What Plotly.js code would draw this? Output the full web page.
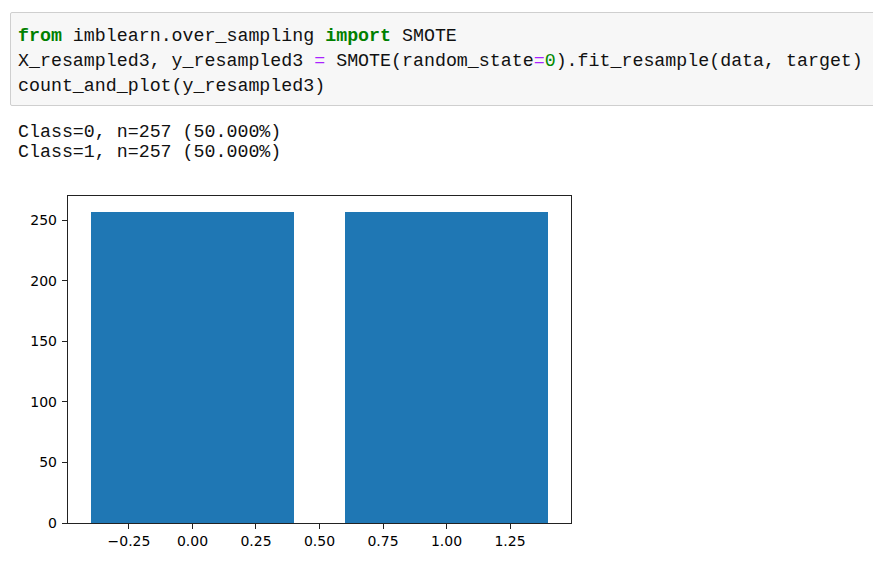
<!DOCTYPE html>
<html>
<head>
<meta charset="utf-8">
<script src="https://cdn.plot.ly/plotly-3.0.1.min.js"></script>
<style>
  html, body { margin: 0; padding: 0; background: #ffffff; }
  #page { position: relative; width: 873px; height: 571px; overflow: hidden; background: #fff; }
  #chart { position: absolute; left: 0; top: 0; width: 873px; height: 571px; }
  .cell { position: absolute; left: 10px; top: 12px; width: 880px; height: 92px;
          background: #f7f7f7; border: 1px solid #cfcfcf; border-radius: 2px; }
  .ln { position: absolute; left: 18px; white-space: pre; font-family: "Liberation Mono", "DejaVu Sans Mono", monospace;
        font-size: 18.3px; line-height: 20.7px; color: #111; }
  .kw { color: #008000; font-weight: bold; }
  .op { color: #aa22ff; }
  .num { color: #008800; }
</style>
</head>
<body>
<div id="page">
  <div id="chart"></div>
  <div class="cell"></div>
  <div class="ln" style="top:25.6px"><span class="kw">from</span> imblearn.over_sampling <span class="kw">import</span> SMOTE</div>
  <div class="ln" style="top:51px">X_resampled3, y_resampled3 <span class="op">=</span> SMOTE(random_state<span class="op">=</span><span class="num">0</span>).fit_resample(data, target)</div>
  <div class="ln" style="top:76.4px">count_and_plot(y_resampled3)</div>
  <div class="ln" style="top:122.3px">Class=0, n=257 (50.000%)</div>
  <div class="ln" style="top:141.6px">Class=1, n=257 (50.000%)</div>
</div>
<script>
const classes = [0, 1];
const counts = [257, 257];
const xTickVals = [-0.25, 0.00, 0.25, 0.50, 0.75, 1.00, 1.25];
const xTickText = ["\u22120.25", "0.00", "0.25", "0.50", "0.75", "1.00", "1.25"];
const yTickVals = [0, 50, 100, 150, 200, 250];
const yTickText = ["0", "50", "100", "150", "200", "250"];

const trace = {
  type: "bar",
  x: classes,
  y: counts,
  width: 0.8,
  marker: { color: "#1f77b4", line: { width: 0 } },
  hoverinfo: "none"
};

const tickFont = { family: "DejaVu Sans, sans-serif", size: 14, color: "#000" };

const layout = {
  width: 873,
  height: 571,
  margin: { l: 68, r: 302, t: 196, b: 48, pad: 0 },
  paper_bgcolor: "rgba(0,0,0,0)",
  plot_bgcolor: "#ffffff",
  showlegend: false,
  bargap: 0,
  xaxis: {
    range: [-0.49, 1.49],
    tickmode: "array",
    tickvals: xTickVals,
    ticktext: xTickText,
    showgrid: false,
    zeroline: false,
    showline: true,
    mirror: true,
    linecolor: "#222",
    linewidth: 1.2,
    ticks: "outside",
    ticklen: 5,
    tickwidth: 1,
    tickcolor: "#222",
    tickfont: tickFont,
    fixedrange: true
  },
  yaxis: {
    range: [0, 269.85],
    tickmode: "array",
    tickvals: yTickVals,
    ticktext: yTickText,
    showgrid: false,
    zeroline: false,
    showline: true,
    mirror: true,
    linecolor: "#222",
    linewidth: 1.2,
    ticks: "outside",
    ticklen: 5,
    tickwidth: 1,
    tickcolor: "#222",
    tickfont: tickFont,
    ticklabelstandoff: 2,
    fixedrange: true
  }
};

Plotly.newPlot("chart", [trace], layout, { displayModeBar: false, staticPlot: true });
</script>
</body>
</html>
